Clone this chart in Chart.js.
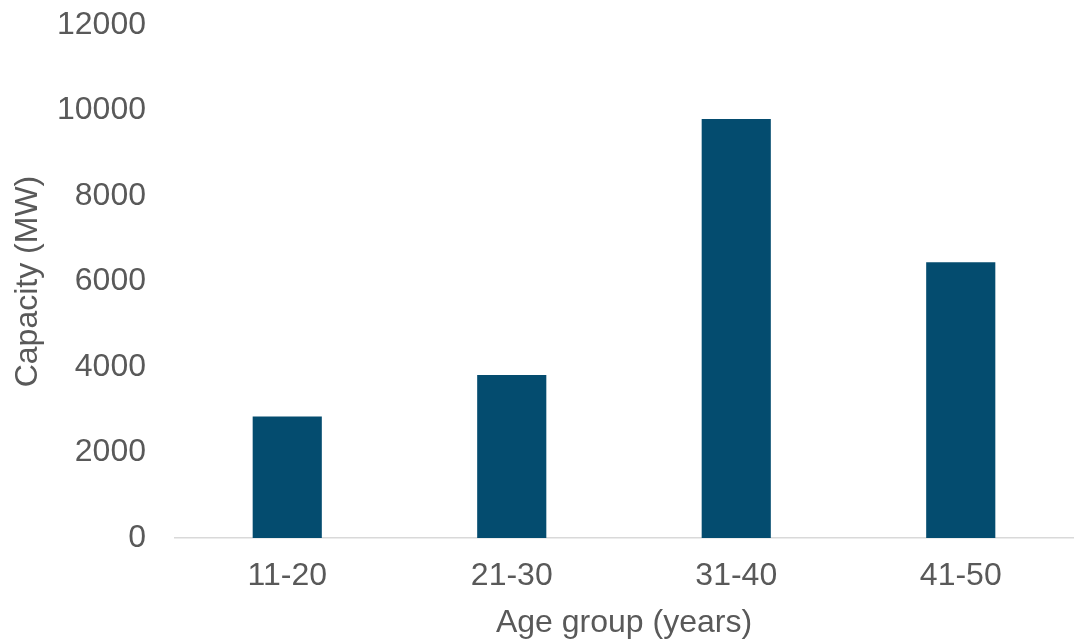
<!DOCTYPE html>
<html>
<head>
<meta charset="utf-8">
<script src="https://cdn.jsdelivr.net/npm/chart.js@4"></script>
<style>
  html, body { margin: 0; padding: 0; background: #ffffff; }
  #wrap { width: 1077px; height: 641px; }
</style>
</head>
<body>
<div id="wrap"><canvas id="chart" width="1077" height="641"></canvas></div>
<script>
// Installed capacity by plant age group
const ageGroups = ['11-20', '21-30', '31-40', '41-50'];
const capacityMW = [2840, 3810, 9800, 6450];
const yTicks = [0, 2000, 4000, 6000, 8000, 10000, 12000];

const textColor = '#595959';
const barColor = '#044c6f';
const fontFamily = '"Liberation Sans", Arial, sans-serif';

new Chart(document.getElementById('chart'), {
  type: 'bar',
  data: {
    labels: ageGroups,
    datasets: [{
      label: 'Capacity (MW)',
      data: capacityMW,
      backgroundColor: barColor,
      borderWidth: 0,
      categoryPercentage: 1,
      barPercentage: 0.308
    }]
  },
  options: {
    responsive: false,
    animation: false,
    devicePixelRatio: 1,
    layout: { padding: { top: 0, right: 4, bottom: 0, left: 0 } },
    plugins: {
      legend: { display: false },
      tooltip: { enabled: false }
    },
    scales: {
      x: {
        grid: { display: false, drawTicks: false, tickLength: 0 },
        border: { display: true, color: '#d9d9d9', width: 1.5 },
        ticks: {
          color: textColor,
          padding: 19,
          font: { family: fontFamily, size: 32, lineHeight: 1.2 }
        },
        title: {
          display: true,
          text: 'Age group (years)',
          color: textColor,
          padding: { top: 0, bottom: 0 },
          font: { family: fontFamily, size: 32, lineHeight: 1.1 }
        },
        afterFit(scale) { scale.height = 103; }
      },
      y: {
        min: 0,
        max: 12000,
        grid: { display: false, drawTicks: false, tickLength: 0 },
        border: { display: false },
        afterBuildTicks(scale) { scale.ticks = yTicks.map(v => ({ value: v })); },
        ticks: {
          color: textColor,
          padding: 29,
          font: { family: fontFamily, size: 32, lineHeight: 1.2 },
          callback: v => String(v)
        },
        title: {
          display: true,
          text: 'Capacity (MW)',
          color: textColor,
          padding: { top: 9, bottom: 0 },
          font: { family: fontFamily, size: 32, lineHeight: 1.2 }
        },
        afterFit(scale) {
          scale.width = 175;
          scale.paddingTop = 25;
          scale.paddingBottom = 0;
        }
      }
    }
  }
});
</script>
</body>
</html>
